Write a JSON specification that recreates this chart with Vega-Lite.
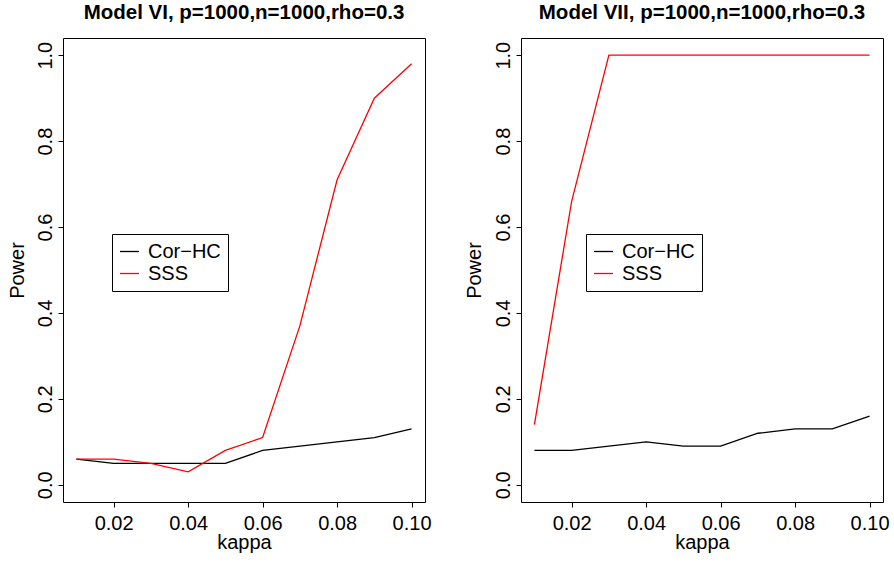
{
  "$schema": "https://vega.github.io/schema/vega-lite/v6.json",
  "padding": {"left": 6, "top": 2, "right": 0, "bottom": 0},
  "background": "white",
  "datasets": {
    "vi": [
      {"kappa": 0.01, "power": 0.06, "method": "Cor−HC"},
      {"kappa": 0.02, "power": 0.05, "method": "Cor−HC"},
      {"kappa": 0.03, "power": 0.05, "method": "Cor−HC"},
      {"kappa": 0.04, "power": 0.05, "method": "Cor−HC"},
      {"kappa": 0.05, "power": 0.05, "method": "Cor−HC"},
      {"kappa": 0.06, "power": 0.08, "method": "Cor−HC"},
      {"kappa": 0.07, "power": 0.09, "method": "Cor−HC"},
      {"kappa": 0.08, "power": 0.10, "method": "Cor−HC"},
      {"kappa": 0.09, "power": 0.11, "method": "Cor−HC"},
      {"kappa": 0.10, "power": 0.13, "method": "Cor−HC"},
      {"kappa": 0.01, "power": 0.06, "method": "SSS"},
      {"kappa": 0.02, "power": 0.06, "method": "SSS"},
      {"kappa": 0.03, "power": 0.05, "method": "SSS"},
      {"kappa": 0.04, "power": 0.03, "method": "SSS"},
      {"kappa": 0.05, "power": 0.08, "method": "SSS"},
      {"kappa": 0.06, "power": 0.11, "method": "SSS"},
      {"kappa": 0.07, "power": 0.37, "method": "SSS"},
      {"kappa": 0.08, "power": 0.71, "method": "SSS"},
      {"kappa": 0.09, "power": 0.90, "method": "SSS"},
      {"kappa": 0.10, "power": 0.98, "method": "SSS"}
    ],
    "vii": [
      {"kappa": 0.01, "power": 0.08, "method": "Cor−HC"},
      {"kappa": 0.02, "power": 0.08, "method": "Cor−HC"},
      {"kappa": 0.03, "power": 0.09, "method": "Cor−HC"},
      {"kappa": 0.04, "power": 0.10, "method": "Cor−HC"},
      {"kappa": 0.05, "power": 0.09, "method": "Cor−HC"},
      {"kappa": 0.06, "power": 0.09, "method": "Cor−HC"},
      {"kappa": 0.07, "power": 0.12, "method": "Cor−HC"},
      {"kappa": 0.08, "power": 0.13, "method": "Cor−HC"},
      {"kappa": 0.09, "power": 0.13, "method": "Cor−HC"},
      {"kappa": 0.10, "power": 0.16, "method": "Cor−HC"},
      {"kappa": 0.01, "power": 0.14, "method": "SSS"},
      {"kappa": 0.02, "power": 0.66, "method": "SSS"},
      {"kappa": 0.03, "power": 1.0, "method": "SSS"},
      {"kappa": 0.04, "power": 1.0, "method": "SSS"},
      {"kappa": 0.05, "power": 1.0, "method": "SSS"},
      {"kappa": 0.06, "power": 1.0, "method": "SSS"},
      {"kappa": 0.07, "power": 1.0, "method": "SSS"},
      {"kappa": 0.08, "power": 1.0, "method": "SSS"},
      {"kappa": 0.09, "power": 1.0, "method": "SSS"},
      {"kappa": 0.10, "power": 1.0, "method": "SSS"}
    ]
  },
  "spacing": 31,
  "resolve": {"scale": {"color": "independent"}, "legend": {"color": "independent"}},
  "hconcat": [
    {
      "width": 362,
      "height": 464,
      "title": "Model VI, p=1000,n=1000,rho=0.3",
      "data": {"name": "vi"},
      "mark": {"type": "line", "strokeWidth": 1.3},
      "encoding": {
        "x": {"field": "kappa", "type": "quantitative", "title": "kappa",
              "scale": {"domain": [0.0064, 0.1036], "nice": false, "zero": false},
              "axis": {"values": [0.02, 0.04, 0.06, 0.08, 0.1], "format": ".2f", "titleX": 181, "titleY": 46}},
        "y": {"field": "power", "type": "quantitative", "title": "Power",
              "scale": {"domain": [-0.04, 1.04], "nice": false, "zero": false},
              "axis": {"values": [0, 0.2, 0.4, 0.6, 0.8, 1.0], "format": ".1f", "titleX": -40, "titleY": 232}},
        "color": {"field": "method", "type": "nominal",
                  "scale": {"domain": ["Cor−HC", "SSS"], "range": ["#000000", "#ff0000"]},
                  "legend": {"orient": "none", "legendX": 49, "legendY": 196, "title": null}}
      }
    },
    {
      "width": 362,
      "height": 464,
      "title": "Model VII, p=1000,n=1000,rho=0.3",
      "data": {"name": "vii"},
      "mark": {"type": "line", "strokeWidth": 1.3},
      "encoding": {
        "x": {"field": "kappa", "type": "quantitative", "title": "kappa",
              "scale": {"domain": [0.0064, 0.1036], "nice": false, "zero": false},
              "axis": {"values": [0.02, 0.04, 0.06, 0.08, 0.1], "format": ".2f", "titleX": 181, "titleY": 46}},
        "y": {"field": "power", "type": "quantitative", "title": "Power",
              "scale": {"domain": [-0.04, 1.04], "nice": false, "zero": false},
              "axis": {"values": [0, 0.2, 0.4, 0.6, 0.8, 1.0], "format": ".1f", "titleX": -41, "titleY": 232}},
        "color": {"field": "method", "type": "nominal",
                  "scale": {"domain": ["Cor−HC", "SSS"], "range": ["#000000", "#ff0000"]},
                  "legend": {"orient": "none", "legendX": 65, "legendY": 196, "title": null}}
      }
    }
  ],
  "config": {
    "font": "Liberation Sans",
    "view": {"stroke": "#000000", "strokeWidth": 1},
    "title": {"fontSize": 20.5, "fontWeight": "bold", "color": "#000000", "anchor": "middle", "baseline": "alphabetic", "offset": 14.5, "frame": "group"},
    "axis": {
      "grid": false,
      "domain": false,
      "ticks": true,
      "tickColor": "#000000",
      "tickSize": 5,
      "tickWidth": 1,
      "labelFont": "Liberation Sans",
      "labelFontSize": 20,
      "labelColor": "#000000",
      "titleFont": "Liberation Sans",
      "titleFontSize": 20,
      "titleFontWeight": "normal",
      "titleColor": "#000000",
      "labelFlush": false,
      "labelOverlap": false
    },
    "axisX": {"labelBaseline": "alphabetic", "labelPadding": 22, "titleBaseline": "alphabetic", "titleAlign": "center"},
    "axisY": {"labelAngle": -90, "labelAlign": "center", "labelBaseline": "alphabetic", "labelPadding": 7, "titleAngle": -90, "titleBaseline": "alphabetic", "titleAlign": "center"},
    "legend": {
      "symbolType": "stroke",
      "symbolSize": 361,
      "symbolStrokeWidth": 1.3,
      "labelFontSize": 20,
      "labelFont": "Liberation Sans",
      "labelColor": "#000000",
      "labelOffset": 8,
      "rowPadding": 1,
      "padding": 7,
      "strokeColor": "#000000",
      "strokeWidth": 1,
      "fillColor": "#ffffff",
      "cornerRadius": 0
    }
  }
}
